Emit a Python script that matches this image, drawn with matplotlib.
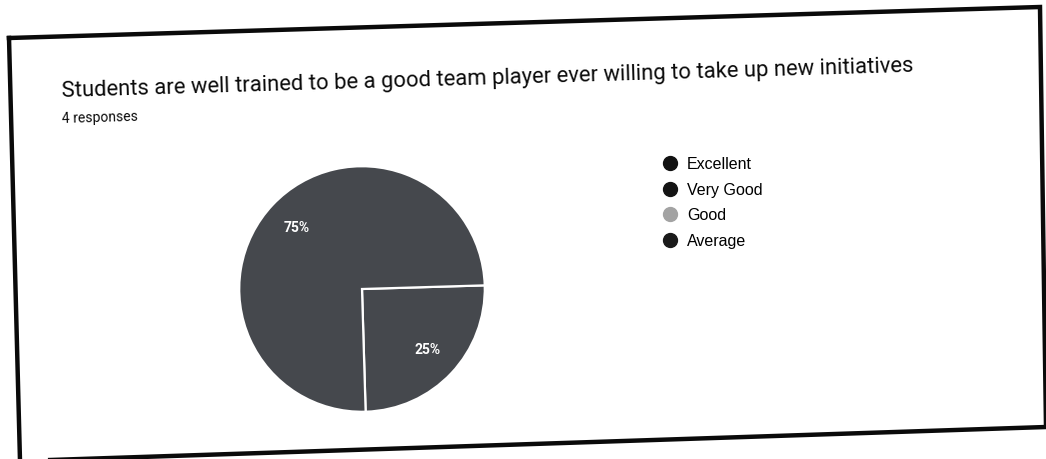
import matplotlib
matplotlib.use("Agg")
import matplotlib.pyplot as plt
from matplotlib.lines import Line2D

W, H = 1046, 459
plt.rcParams["font.family"] = ["Roboto", "DejaVu Sans"]

# data
title = "Students are well trained to be a good team player ever willing to take up new initiatives"
subtitle = "4 responses"
categories = ["Excellent", "Very Good", "Good", "Average"]
counts = [1, 3, 0, 0]
legend_colors = ["#111111", "#141414", "#a3a3a3", "#1a1a1a"]
slice_color = "#45484d"
tilt = 1.7  # photo is rotated a little


def fx(px):
    return px / W


def fy(py):
    return 1 - py / H


fig = plt.figure(figsize=(W / 100, H / 100), dpi=100, facecolor="white")

# frame of the printed card (tilted)
corners = [(9, 38), (1040, 7), (1046, 427), (20, 461)]
xs = [fx(c[0]) for c in corners] + [fx(corners[0][0])]
ys = [fy(c[1]) for c in corners] + [fy(corners[0][1])]
fig.add_artist(Line2D(xs, ys, color="#0a0a0a", lw=3.2, solid_joinstyle="miter"))

fig.text(fx(62), fy(97), title, fontsize=15.8, color="#0a0a0a",
         rotation=tilt, rotation_mode="anchor", ha="left", va="baseline")
fig.text(fx(62), fy(123), subtitle, fontsize=10, color="#0a0a0a",
         rotation=tilt, rotation_mode="anchor", ha="left", va="baseline")

# pie
cx, cy, r = 362, 289, 124
ax = fig.add_axes([fx(cx - r), fy(cy + r), 2 * r / W, 2 * r / H])
vals = [c for c in counts if c > 0]
wedges, texts, autotexts = ax.pie(
    vals, colors=[slice_color] * len(vals), startangle=tilt, counterclock=False,
    autopct=lambda p: f"{p:.0f}%", pctdistance=0.73,
    wedgeprops=dict(edgecolor="white", linewidth=1.6),
    textprops=dict(color="white", fontsize=10, fontweight="bold"),
)
ax.set_xlim(-1.01, 1.01)
ax.set_ylim(-1.01, 1.01)
ax.set_aspect("equal")
ax.axis("off")

handles = [Line2D([], [], marker="o", ls="none", markersize=10, markerfacecolor=c,
                  markeredgecolor=c) for c in legend_colors]
fig.legend(handles, categories, loc="upper left",
           bbox_to_anchor=(fx(662), fy(157)), frameon=False,
           prop=dict(family="Liberation Sans", size=11.5),
           borderpad=0, borderaxespad=0,
           handletextpad=0.55, labelspacing=0.66, handlelength=1.0)

fig.savefig("out.png", dpi=100, facecolor="white")
